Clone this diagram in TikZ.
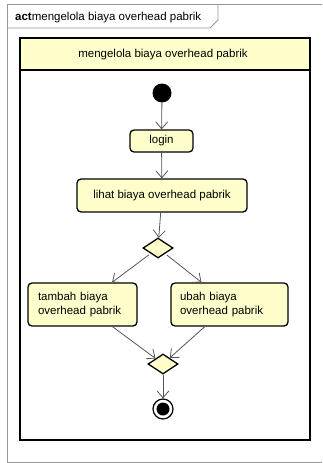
\documentclass[tikz,border=0pt]{standalone}
\usepackage{fontspec}
\setmainfont{Liberation Sans}
\usetikzlibrary{shapes.geometric,arrows.meta}
\definecolor{yfill}{RGB}{255,255,204}
\definecolor{linegray}{RGB}{85,85,85}
\definecolor{framegray}{RGB}{150,150,150}
\newcommand{\fs}{\fontsize{11.5pt}{14.5pt}\selectfont}
\tikzset{
  actbox/.style={draw=black, line width=1.3pt, fill=yfill, rounded corners=4pt, font=\fs},
  flow/.style={draw=linegray, line width=0.8pt, -{Straight Barb[length=7pt,width=12pt]}},
  dia/.style={diamond, draw=black, line width=1.3pt, fill=yfill, minimum width=30pt, minimum height=20pt, inner sep=0pt, aspect=1.5},
}
\begin{document}
\begin{tikzpicture}[x=1pt,y=-1pt]
\useasboundingbox (0,0) rectangle (322,463);
% outer frame
\draw[framegray, line width=0.8pt] (322,4) -- (7,4) -- (7,462) -- (322,462);
\draw[framegray, line width=0.8pt] (7,28) -- (210,28) -- (218,20) -- (218,4);
\node[anchor=base west, inner sep=0pt, font=\fs] (title) at (15,20) {\textbf{act}mengelola biaya overhead pabrik};
% partition
\fill[yfill] (20,38) rectangle (310,70);
\draw[black, line width=1.5pt] (20,38) rectangle (310,440);
\draw[black, line width=1.5pt] (20,70) -- (310,70);
\node[font=\fs] (hdr) at (163,54.5) {mengelola biaya overhead pabrik};
% nodes
\node[circle, fill=black, minimum size=19pt, inner sep=0pt] (init) at (162,93) {};
\node[actbox, minimum width=63pt, minimum height=22pt] (login) at (161.5,141) {login};
\node[actbox, minimum width=170pt, minimum height=33pt] (lihat) at (162,195.5) {lihat biaya overhead pabrik};
\node[dia] (d1) at (158,248) {};
\node[actbox, minimum height=43pt, text width=89pt, inner xsep=10pt, align=left] (tambah) at (82.5,304.5) {tambah biaya\\overhead pabrik};
\node[actbox, minimum height=43pt, text width=99pt, inner xsep=9pt, align=left] (ubah) at (229.5,304.5) {ubah biaya\\overhead pabrik};
\node[dia] (d2) at (163,364) {};
\node[circle, draw=black, line width=1.2pt, fill=white, minimum size=20pt, inner sep=0pt] (final) at (163,409) {};
\fill[black] (final.center) circle[radius=6.5pt];
% connectors
\draw[flow] (init) -- (login);
\draw[flow] (login) -- (lihat);
\draw[flow] (lihat) -- (d1);
\draw[flow, shorten <=2pt] (d1) -- (tambah);
\draw[flow, shorten <=2pt] (d1) -- (ubah);
\draw[flow] (tambah) -- (d2);
\draw[flow] (ubah) -- (d2);
\draw[flow] (d2) -- (final);
\end{tikzpicture}
\end{document}
